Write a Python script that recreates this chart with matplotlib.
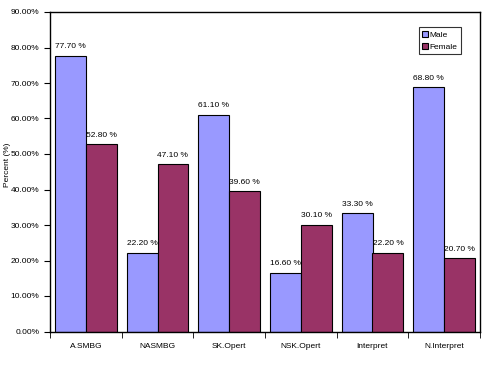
import matplotlib
matplotlib.use("Agg")
import matplotlib.pyplot as plt
import numpy as np
from matplotlib.ticker import FuncFormatter, FixedLocator

categories = ["A.SMBG", "NASMBG", "SK.Opert", "NSK.Opert", "Interpret", "N.Interpret"]
male = [77.70, 22.20, 61.10, 16.60, 33.30, 68.80]
female = [52.80, 47.10, 39.60, 30.10, 22.20, 20.70]

plt.rcParams['font.family'] = ['Liberation Sans', 'DejaVu Sans']
fig = plt.figure(figsize=(4.84, 3.75), dpi=100)
ax = fig.add_axes([50/484, 1-331.5/375, 430/484, (331.5-12)/375])

x = np.arange(len(categories))
w = 0.43
b1 = ax.bar(x - w/2, male, w, color="#9999FF", edgecolor="black", linewidth=0.8, label="Male")
b2 = ax.bar(x + w/2, female, w, color="#993366", edgecolor="black", linewidth=0.8, label="Female")

for rects, vals in ((b1, male), (b2, female)):
    for r, v in zip(rects, vals):
        ax.text(r.get_x() + r.get_width()/2, v + 1.5, f"{v:.2f} %", ha="center", va="bottom", fontsize=6)

ax.set_xlim(-0.5, len(categories) - 0.5)
ax.set_ylim(0, 90)
ax.set_yticks(np.arange(0, 91, 10))
ax.yaxis.set_major_formatter(FuncFormatter(lambda v, p: f"{v:.2f}%"))
ax.set_xticks(x)
ax.set_xticklabels(categories, fontsize=6)
ax.tick_params(axis="x", length=0, pad=8)
ax.xaxis.set_minor_locator(FixedLocator(np.arange(-0.5, len(categories), 1)))
ax.tick_params(axis="x", which="minor", length=4, direction="out")
ax.tick_params(axis="y", labelsize=6, length=4, direction="out")
fig.text(8/484, 1-165/375, "Percent (%)", rotation=90, fontsize=6, ha="center", va="center")
for s in ax.spines.values():
    s.set_linewidth(1)

leg = ax.legend(loc="upper right", bbox_to_anchor=(0.965, 0.965), fontsize=6, frameon=True, fancybox=False,
                edgecolor="black", handlelength=0.7, handleheight=0.7, handletextpad=0.2, borderpad=0.4, labelspacing=0.5)
leg.get_frame().set_linewidth(0.8)

fig.savefig("out.png", dpi=100)
